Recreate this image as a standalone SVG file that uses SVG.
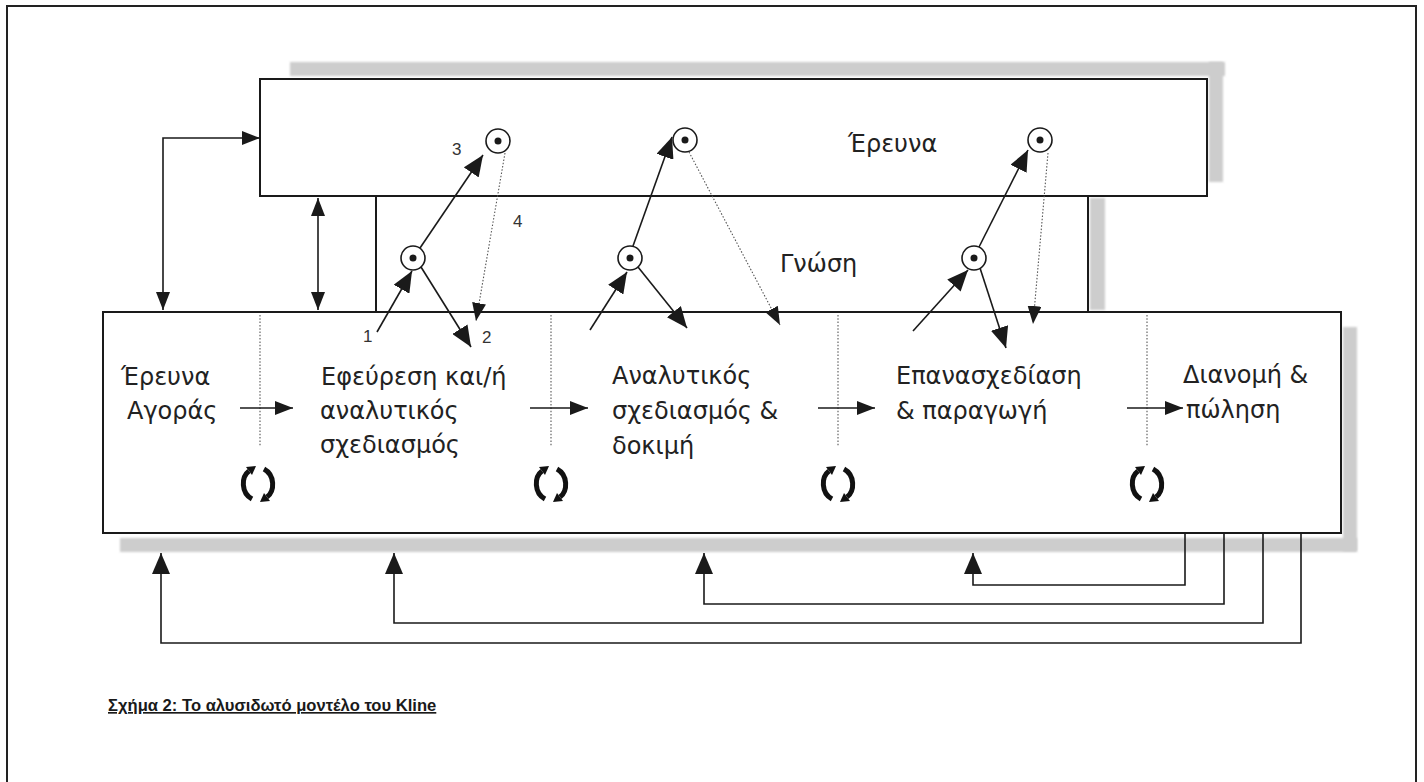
<svg xmlns="http://www.w3.org/2000/svg" width="1424" height="782" viewBox="0 0 1424 782">
  <style>
    .box { fill: #fff; stroke: #1a1a1a; stroke-width: 2; }
    .shadow { fill: #cdcdcd; filter: url(#soft); }
    .ln { fill: none; stroke: #1a1a1a; stroke-width: 1.6; }
    .dot { fill: none; stroke: #555; stroke-width: 1.1; stroke-dasharray: 1.5 1.8; }
    .lbl { font-family: "DejaVu Sans", "Liberation Sans", sans-serif; font-size: 24px; fill: #222; }
    .num { font-family: "Liberation Sans", Arial, sans-serif; font-size: 17px; fill: #333; }
    .cap { font-family: "Liberation Sans", Arial, sans-serif; font-size: 16.6px; font-weight: bold; fill: #1a1a1a; text-decoration: underline; }
    .node-c { fill: #fff; stroke: #1a1a1a; stroke-width: 1.6; }
  </style>
  <defs>
    <filter id="soft" x="-10%" y="-50%" width="120%" height="200%">
      <feGaussianBlur stdDeviation="1.3"/>
    </filter>
    <marker id="ah" markerUnits="userSpaceOnUse" viewBox="0 0 18 14" refX="18" refY="7" markerWidth="18" markerHeight="14" orient="auto-start-reverse">
      <path d="M0,0 L18,7 L0,14 z" fill="#1a1a1a"/>
    </marker>
    <marker id="ahL" markerUnits="userSpaceOnUse" viewBox="0 0 21 18" refX="21" refY="9" markerWidth="21" markerHeight="18" orient="auto-start-reverse">
      <path d="M0,0 L21,9 L0,18 z" fill="#1a1a1a"/>
    </marker>
    <!-- knowledge point: circle with a centre dot -->
    <g id="pt">
      <circle class="node-c" r="12"/>
      <circle r="3.5" fill="#1a1a1a"/>
    </g>
    <!-- iteration symbol: two curved arrows -->
    <g id="cycle">
      <path d="M-6,15 C-17,9 -17,-7 -9,-13" fill="none" stroke="#111" stroke-width="5"/>
      <polygon points="-2,-18 -12,-17 -6,-9" fill="#111"/>
      <path d="M6,-15 C17,-9 17,7 9,13" fill="none" stroke="#111" stroke-width="5"/>
      <polygon points="2,18 12,17 6,9" fill="#111"/>
    </g>
  </defs>

  <rect width="1424" height="782" fill="#fff"/>

  <!-- outer frame (bottom edge runs past the page) -->
  <path d="M7,790 V6 H1416 V790" fill="none" stroke="#222" stroke-width="2"/>

  <!-- soft shadows behind the boxes -->
  <g id="shadows">
    <rect class="shadow" x="290" y="62" width="935" height="14"/>
    <rect class="shadow" x="1209" y="62" width="14" height="120"/>
    <rect class="shadow" x="1090" y="198" width="15" height="112"/>
    <rect class="shadow" x="1343" y="327" width="14" height="224"/>
    <rect class="shadow" x="120" y="538" width="1237" height="14"/>
  </g>

  <g id="research">
    <rect class="box" x="260" y="79" width="947" height="117"/>
    <text class="lbl" x="848" y="152">Έρευνα</text>
  </g>

  <g id="knowledge">
    <rect class="box" x="376" y="196" width="712" height="116"/>
    <text class="lbl" x="780" y="272">Γνώση</text>
  </g>

  <g id="chain">
    <rect class="box" x="103" y="312" width="1238" height="221"/>
    <g class="dot">
      <line x1="260" y1="315" x2="260" y2="447"/>
      <line x1="551" y1="315" x2="551" y2="447"/>
      <line x1="838" y1="315" x2="838" y2="447"/>
      <line x1="1147" y1="315" x2="1147" y2="447"/>
    </g>
  </g>

  <g id="market-research">
    <text class="lbl"><tspan x="121" y="385">Έρευνα</tspan><tspan x="127" y="419">Αγοράς</tspan></text>
  </g>
  <g id="invention">
    <text class="lbl"><tspan x="321" y="385">Εφεύρεση και/ή</tspan><tspan x="320" y="419">αναλυτικός</tspan><tspan x="320" y="453">σχεδιασμός</tspan></text>
  </g>
  <g id="detailed-design">
    <text class="lbl"><tspan x="612" y="384">Αναλυτικός</tspan><tspan x="612" y="419">σχεδιασμός &amp;</tspan><tspan x="612" y="454">δοκιμή</tspan></text>
  </g>
  <g id="redesign">
    <text class="lbl"><tspan x="896" y="384">Επανασχεδίαση</tspan><tspan x="896" y="419">&amp; παραγωγή</tspan></text>
  </g>
  <g id="distribution">
    <text class="lbl"><tspan x="1183" y="383">Διανομή &amp;</tspan><tspan x="1186" y="418">πώληση</tspan></text>
  </g>

  <g id="iterations">
    <use href="#cycle" x="258" y="484"/>
    <use href="#cycle" x="551" y="484"/>
    <use href="#cycle" x="838" y="484"/>
    <use href="#cycle" x="1147" y="484"/>
  </g>

  <g id="points">
    <use href="#pt" x="413" y="258"/>
    <use href="#pt" x="498" y="141"/>
    <use href="#pt" x="630" y="258"/>
    <use href="#pt" x="685" y="140"/>
    <use href="#pt" x="974" y="258"/>
    <use href="#pt" x="1040" y="140"/>
  </g>

  <g id="connectors">
    <!-- central chain of innovation -->
    <path class="ln" d="M240,408 H293" marker-end="url(#ah)"/>
    <path class="ln" d="M530,408 H588" marker-end="url(#ah)"/>
    <path class="ln" d="M818,408 H875" marker-end="url(#ah)"/>
    <path class="ln" d="M1127,408 H1183" marker-end="url(#ah)"/>

    <!-- links with research -->
    <path class="ln" d="M163,310 V138 H260" marker-start="url(#ah)" marker-end="url(#ah)"/>
    <path class="ln" d="M318,198 V310" marker-start="url(#ah)" marker-end="url(#ah)"/>

    <!-- through knowledge to research and back -->
    <path class="ln" d="M377,332 L412,271" marker-end="url(#ahL)"/>
    <path class="ln" d="M420,248 L483,155" marker-end="url(#ahL)"/>
    <path class="ln" d="M421,267 L471,347" marker-end="url(#ahL)"/>
    <path class="dot" d="M505,153 L476,321" marker-end="url(#ah)"/>

    <path class="ln" d="M590,330 L627,272" marker-end="url(#ahL)"/>
    <path class="ln" d="M633,246 L672,137" marker-end="url(#ahL)"/>
    <path class="ln" d="M638,267 L687,328" marker-end="url(#ahL)"/>
    <path class="dot" d="M689,152 L780,325" marker-end="url(#ah)"/>

    <path class="ln" d="M913,331 L968,270" marker-end="url(#ahL)"/>
    <path class="ln" d="M979,247 L1028,150" marker-end="url(#ahL)"/>
    <path class="ln" d="M980,268 L1006,348" marker-end="url(#ahL)"/>
    <path class="dot" d="M1048,153 L1033,324" marker-end="url(#ah)"/>

    <!-- feedback loops -->
    <path class="ln" d="M1185,533 V585 H973 V553" marker-end="url(#ahL)"/>
    <path class="ln" d="M1224,533 V604 H704 V553" marker-end="url(#ahL)"/>
    <path class="ln" d="M1263,533 V623 H394 V553" marker-end="url(#ahL)"/>
    <path class="ln" d="M1301,533 V643 H161 V553" marker-end="url(#ahL)"/>
  </g>

  <g id="path-numbers">
    <text class="num" x="363" y="342">1</text>
    <text class="num" x="482" y="343">2</text>
    <text class="num" x="452" y="155">3</text>
    <text class="num" x="513" y="227">4</text>
  </g>

  <text class="cap" x="108" y="711">Σχήμα 2: Το αλυσιδωτό μοντέλο του Kline</text>
</svg>
